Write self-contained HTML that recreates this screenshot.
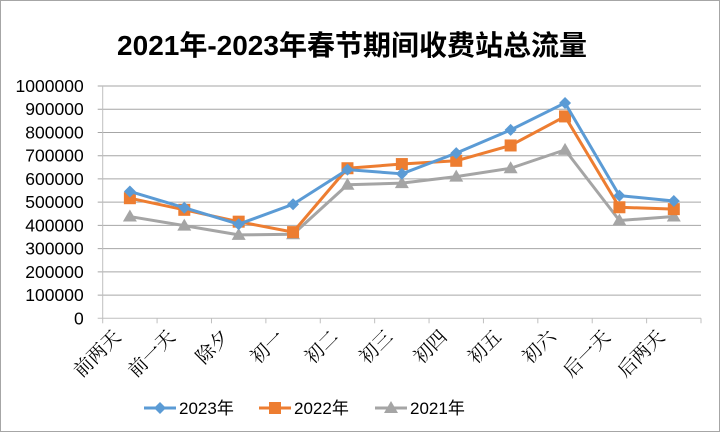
<!DOCTYPE html>
<html><head><meta charset="utf-8"><style>
body{margin:0;background:#fff}
svg{display:block}
</style></head><body>
<svg width="721" height="433" xmlns="http://www.w3.org/2000/svg">
<rect x="0.5" y="0.5" width="719" height="431" fill="#fff" stroke="#a6a6a6"/>
<text x="352" y="55" text-anchor="middle" font-family="Liberation Sans, 'Noto Sans CJK SC', sans-serif" font-weight="bold" font-size="28" fill="#000">2021年-2023年春节期间收费站总流量</text>
<g id="grid"></g>
<g id="axes"></g>
<g id="series"></g>
<g id="legend"></g>
</svg>
<script>
const categories=["前两天","前一天","除夕","初一","初二","初三","初四","初五","初六","后一天","后两天"];
const s2023=[546000,476000,405000,491000,640000,622000,711000,811000,927000,528000,505000];
const s2022=[517000,467000,416000,371000,646000,664000,678000,744000,869000,478000,470000];
const s2021=[438000,399000,359000,362000,575000,582000,610000,646000,725000,421000,438000];
const yTicks=[0,100000,200000,300000,400000,500000,600000,700000,800000,900000,1000000];
const NS="http://www.w3.org/2000/svg";
const L=102.7,R=701,T=86,B=318.3,yMax=1000000;
const bw=(R-L)/categories.length;
const xs=i=>L+bw*(i+0.5);
const ys=v=>B-(v/yMax)*(B-T);
function mk(tag,attrs,parent){const e=document.createElementNS(NS,tag);for(const k in attrs)e.setAttribute(k,attrs[k]);parent.appendChild(e);return e;}
const grid=document.getElementById('grid'),axes=document.getElementById('axes'),ser=document.getElementById('series'),leg=document.getElementById('legend');
yTicks.forEach(v=>{
 const l=mk('line',{x1:L-5,x2:R,y1:ys(v),y2:ys(v),stroke:v===0?'#bfbfbf':'#a6a6a6','stroke-width':1},grid);
 
 
 const t=mk('text',{x:L-19,y:ys(v)+6,'text-anchor':'end','font-family':'Liberation Sans, sans-serif','font-size':17.5,fill:'#000'},axes);
 t.textContent=v;
 
 
});
mk('line',{x1:L,x2:L,y1:T,y2:B,stroke:'#bfbfbf'},axes);
for(let i=0;i<=categories.length;i++){
 const tk=mk('line',{x1:L+bw*i,x2:L+bw*i,y1:B,y2:B+5,stroke:'#bfbfbf'},axes);
 
 
}
categories.forEach((c,i)=>{
 const x=xs(i)-8,y=338;
 const t=mk('text',{x:x,y:y,'text-anchor':'end',transform:`rotate(-45 ${x} ${y})`,'font-family':"'Noto Serif CJK SC', serif",'font-size':19,fill:'#000'},axes);
 t.textContent=c;
 
 
});
function marker(type,x,y,color,g){
 if(type==='diamond') return mk('polygon',{points:`${x},${y-6} ${x+6},${y} ${x},${y+6} ${x-6},${y}`,fill:color},g);
 if(type==='square') return mk('rect',{x:x-6,y:y-6,width:12,height:12,fill:color},g);
 return mk('polygon',{points:`${x},${y-7} ${x+7},${y+5} ${x-7},${y+5}`,fill:color},g);
}
const defs=[[s2021,'#a5a5a5','triangle','2021'],[s2022,'#ed7d31','square','2022'],[s2023,'#5b9bd5','diamond','2023']];
defs.forEach(([arr,col,mt,name])=>{
 const g=mk('g',{},ser);
 
 
 const p=mk('polyline',{points:arr.map((v,i)=>xs(i)+','+ys(v)).join(' '),fill:'none',stroke:col,'stroke-width':3,'stroke-linejoin':'round'},g);
 
 
 arr.forEach((v,i)=>{const m=marker(mt,xs(i),ys(v),col,g);
  
  });
});
const legs=[['2023年','#5b9bd5','diamond',144],['2022年','#ed7d31','square',259],['2021年','#a5a5a5','triangle',375]];
legs.forEach(([lab,col,mt,x])=>{
 const g=mk('g',{},leg);
 
 
 mk('line',{x1:x,x2:x+32,y1:408,y2:408,stroke:col,'stroke-width':3},g);
 marker(mt,x+16,408,col,g);
 const t=mk('text',{x:x+35,y:414,'font-family':"Liberation Sans, 'Noto Sans CJK SC', sans-serif",'font-size':17,fill:'#000'},g);
 t.textContent=lab;
});
</script>
</body></html>
